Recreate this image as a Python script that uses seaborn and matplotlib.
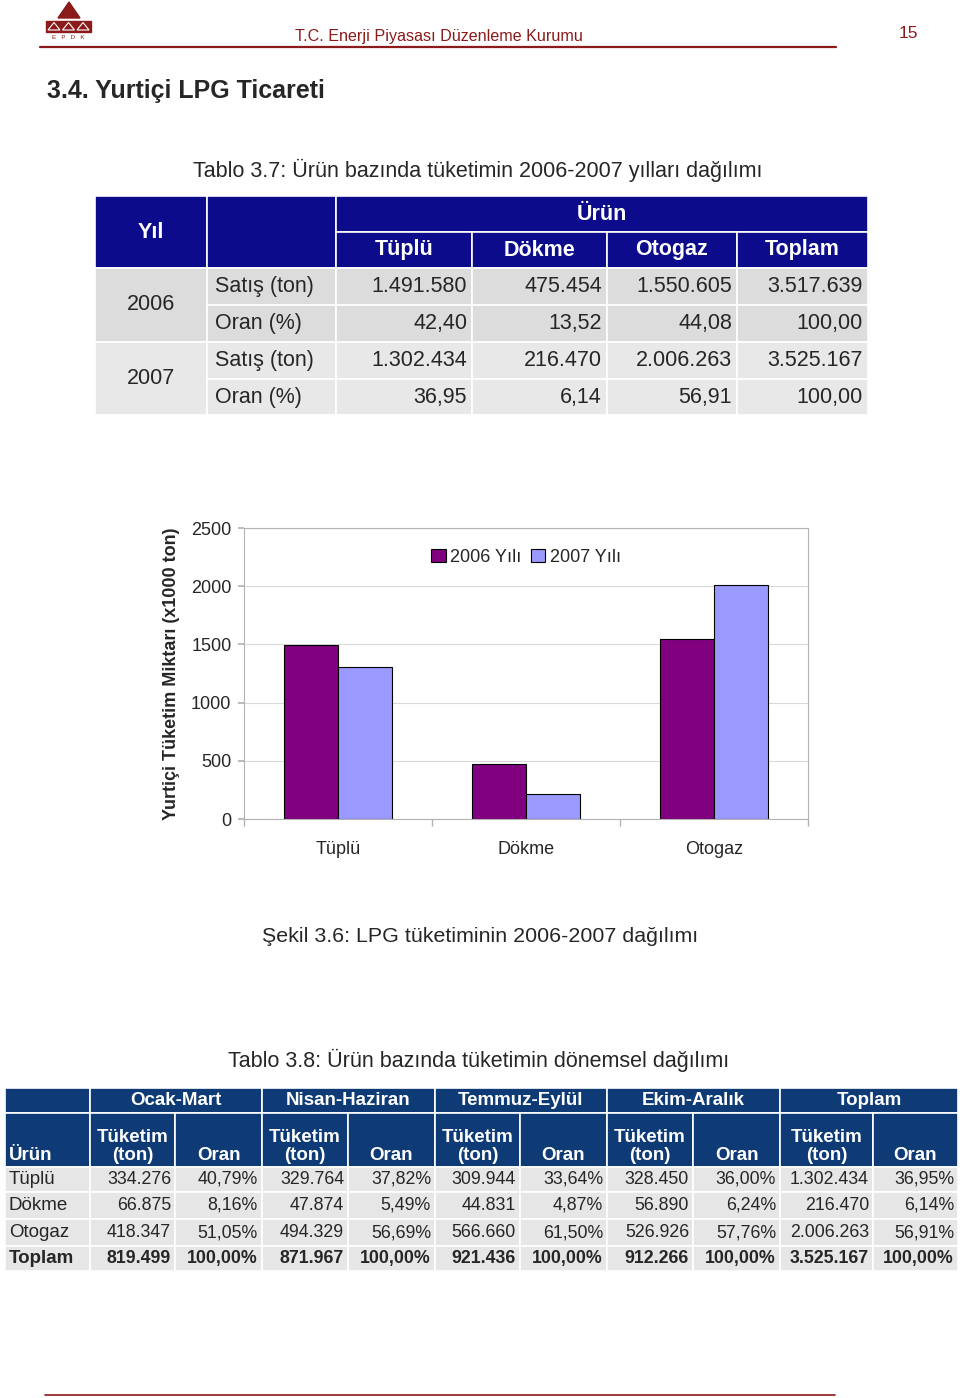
import numpy as np
import pandas as pd
import matplotlib
matplotlib.use("Agg")
import matplotlib.pyplot as plt
from matplotlib.patches import Rectangle, Polygon
import seaborn as sns

# ---- data -------------------------------------------------------------
products = ["Tüplü", "Dökme", "Otogaz", "Toplam"]
sales_2006 = [1491580, 475454, 1550605, 3517639]
share_2006 = [42.40, 13.52, 44.08, 100.00]
sales_2007 = [1302434, 216470, 2006263, 3525167]
share_2007 = [36.95, 6.14, 56.91, 100.00]

chart_categories = ["Tüplü", "Dökme", "Otogaz"]
chart_2006 = [1491.6, 475.5, 1550.6]
chart_2007 = [1302.4, 216.5, 2006.3]
years = ["2006 Yılı", "2007 Yılı"]

periods = ["Ocak-Mart", "Nisan-Haziran", "Temmuz-Eylül", "Ekim-Aralık", "Toplam"]
rows2 = ["Tüplü", "Dökme", "Otogaz", "Toplam"]
ton_q1 = [334276, 66875, 418347, 819499]
pct_q1 = [40.79, 8.16, 51.05, 100.00]
ton_q2 = [329764, 47874, 494329, 871967]
pct_q2 = [37.82, 5.49, 56.69, 100.00]
ton_q3 = [309944, 44831, 566660, 921436]
pct_q3 = [33.64, 4.87, 61.50, 100.00]
ton_q4 = [328450, 56890, 526926, 912266]
pct_q4 = [36.00, 6.24, 57.76, 100.00]
ton_tot = [1302434, 216470, 2006263, 3525167]
pct_tot = [36.95, 6.14, 56.91, 100.00]

# ---- styles -----------------------------------------------------------
RED = "#8B1A1A"
NAVY = "#0B0B8C"
BLUE2 = "#0E3B75"
FONT = ["Liberation Sans", "DejaVu Sans"]

sns.set_theme(style="white")
plt.rcParams["font.family"] = FONT


def tr_int(v):
    return f"{v:,}".replace(",", ".")


def tr_dec(v, suffix=""):
    return f"{v:.2f}".replace(".", ",") + suffix


fig = plt.figure(figsize=(9.6, 13.98), dpi=100)
page = fig.add_axes([0, 0, 1, 1])
page.set_xlim(0, 960)
page.set_ylim(1398, 0)
page.axis("off")

# ---- page header ------------------------------------------------------
page.add_patch(Polygon([[58, 18], [69, 2], [80, 18]], color=RED))
page.add_patch(Rectangle((46, 21), 45, 11, color=RED))
for cx in [54, 68.5, 83]:
    page.add_patch(Polygon([[cx - 6, 30], [cx, 22.5], [cx + 6, 30]],
                           facecolor=RED, edgecolor="white", lw=0.8))
page.text(68.5, 37.5, "E   P   D   K", fontsize=4.5, color=RED, ha="center", va="center")
page.plot([40, 836], [46.5, 46.5], color=RED, lw=1.6)
page.text(295, 36, "T.C. Enerji Piyasası Düzenleme Kurumu",
          fontsize=11.6, color=RED, va="center")
page.text(908, 33, "15", fontsize=12.5, color=RED, ha="center", va="center")
page.text(47, 91, "3.4. Yurtiçi LPG Ticareti", fontsize=18,
          fontweight="bold", va="center")
page.plot([45, 835], [1395, 1395], color=RED, lw=1.2)

# ---- table 3.7 --------------------------------------------------------
page.text(193, 170, "Tablo 3.7: Ürün bazında tüketimin 2006-2007 yılları dağılımı",
          fontsize=15.5, va="center")
c1 = [95, 207, 336, 472, 607, 737, 868]
r1 = [196, 232, 268, 305, 342, 379, 415]


def cell(x0, x1, y0, y1, color):
    page.add_patch(Rectangle((x0, y0), x1 - x0, y1 - y0, facecolor=color,
                             edgecolor="white", lw=1.2))


cell(c1[0], c1[1], r1[0], r1[2], NAVY)
cell(c1[1], c1[2], r1[0], r1[2], NAVY)
cell(c1[2], c1[6], r1[0], r1[1], NAVY)
page.text((c1[0] + c1[1]) / 2, (r1[0] + r1[2]) / 2, "Yıl", color="white",
          fontsize=15.5, fontweight="bold", ha="center", va="center")
page.text((c1[2] + c1[6]) / 2, (r1[0] + r1[1]) / 2, "Ürün", color="white",
          fontsize=15.5, fontweight="bold", ha="center", va="center")
for j, p in enumerate(products):
    cell(c1[j + 2], c1[j + 3], r1[1], r1[2], NAVY)
    page.text((c1[j + 2] + c1[j + 3]) / 2, (r1[1] + r1[2]) / 2, p, color="white",
              fontsize=15.5, fontweight="bold", ha="center", va="center")

blocks = [("2006", sales_2006, share_2006, "#DCDCDC"),
          ("2007", sales_2007, share_2007, "#E8E8E8")]
for b, (yr, sales, share, bg) in enumerate(blocks):
    ra = r1[2 + 2 * b]
    rb = r1[3 + 2 * b]
    rc = r1[4 + 2 * b]
    cell(c1[0], c1[1], ra, rc, bg)
    page.text((c1[0] + c1[1]) / 2, (ra + rc) / 2, yr, fontsize=15.5,
              ha="center", va="center")
    for (y0, y1, lab, vals) in [(ra, rb, "Satış (ton)", [tr_int(v) for v in sales]),
                                (rb, rc, "Oran (%)", [tr_dec(v) for v in share])]:
        cell(c1[1], c1[2], y0, y1, bg)
        page.text(c1[1] + 8, (y0 + y1) / 2, lab, fontsize=15.5, va="center")
        for j, v in enumerate(vals):
            cell(c1[j + 2], c1[j + 3], y0, y1, bg)
            page.text(c1[j + 3] - 5, (y0 + y1) / 2, v, fontsize=15.5,
                      ha="right", va="center")

# ---- chart ------------------------------------------------------------
df = pd.DataFrame({
    "urun": chart_categories * 2,
    "yil": [years[0]] * 3 + [years[1]] * 3,
    "ton": chart_2006 + chart_2007,
})
ax = fig.add_axes([244 / 960, (1398 - 819) / 1398, 564 / 960, 291 / 1398])
sns.barplot(data=df, x="urun", y="ton", hue="yil", palette=["#800080", "#9999FF"],
            width=0.57, saturation=1, edgecolor="black", linewidth=0.8, ax=ax)
ax.set_xlim(-0.5, 2.5)
ax.set_ylim(0, 2500)
ax.set_yticks(np.arange(0, 2501, 500))
ax.yaxis.grid(True, color="#D9D9D9", lw=0.8)
ax.set_axisbelow(True)
for s in ax.spines.values():
    s.set_color("#B3B3B3")
    s.set_linewidth(0.8)
ax.set_xticks([-0.5, 0.5, 1.5, 2.5], minor=True)
ax.tick_params(axis="x", which="major", length=0, pad=16, labelsize=13)
ax.tick_params(axis="x", which="minor", length=5, color="#B3B3B3", bottom=True)
ax.tick_params(axis="y", length=4, color="#B3B3B3", left=True, pad=5, labelsize=13)
ax.set_xlabel("")
ax.set_ylabel("Yurtiçi Tüketim Miktarı (x1000 ton)", fontsize=13, fontweight="bold")
ax.yaxis.set_label_coords(-0.113, 0.5)
leg = ax.legend(loc="center", bbox_to_anchor=(0.5, 0.9), ncol=2, frameon=False,
                fontsize=13, handlelength=0.8, handleheight=0.8, handletextpad=0.25,
                columnspacing=0.5)

page.text(262, 937, "Şekil 3.6: LPG tüketiminin 2006-2007 dağılımı", fontsize=15.4,
          va="center")

# ---- table 3.8 --------------------------------------------------------
page.text(228, 1060, "Tablo 3.8: Ürün bazında tüketimin dönemsel dağılımı",
          fontsize=15.5, va="center")
c2 = [5, 90, 175, 262, 348, 435, 520, 607, 693, 780, 873, 958]
r2 = [1088, 1113, 1167, 1192, 1219, 1246, 1271]
tons = [ton_q1, ton_q2, ton_q3, ton_q4, ton_tot]
pcts = [pct_q1, pct_q2, pct_q3, pct_q4, pct_tot]
FS2 = 12.8

cell(c2[0], c2[1], r2[0], r2[1], BLUE2)
cell(c2[0], c2[1], r2[1], r2[2], BLUE2)
page.text(c2[0] + 4, r2[2] - 3, "Ürün", fontsize=FS2 + 0.7, fontweight="bold",
          color="white", va="bottom")
for k, per in enumerate(periods):
    xa, xb, xc = c2[1 + 2 * k], c2[2 + 2 * k], c2[3 + 2 * k]
    cell(xa, xc, r2[0], r2[1], BLUE2)
    page.text((xa + xc) / 2, (r2[0] + r2[1]) / 2, per, fontsize=FS2 + 0.7,
              fontweight="bold", color="white", ha="center", va="center")
    cell(xa, xb, r2[1], r2[2], BLUE2)
    cell(xb, xc, r2[1], r2[2], BLUE2)
    page.text((xa + xb) / 2, r2[2] - 3, "Tüketim\n(ton)", fontsize=FS2 + 0.7,
              fontweight="bold", color="white", ha="center", va="bottom",
              linespacing=1.1)
    page.text((xb + xc) / 2, r2[2] - 3, "Oran", fontsize=FS2 + 0.7,
              fontweight="bold", color="white", ha="center", va="bottom")
    for i in range(len(rows2)):
        y0, y1 = r2[2 + i], r2[3 + i]
        wt = "bold" if i == len(rows2) - 1 else "normal"
        cell(xa, xb, y0, y1, "#E6E6E6")
        cell(xb, xc, y0, y1, "#E6E6E6")
        page.text(xb - 4, (y0 + y1) / 2, tr_int(tons[k][i]),
                  fontsize=FS2, fontweight=wt, ha="right", va="center")
        page.text(xc - 4, (y0 + y1) / 2, tr_dec(pcts[k][i], "%"),
                  fontsize=FS2, fontweight=wt, ha="right", va="center")
for i, name in enumerate(rows2):
    y0, y1 = r2[2 + i], r2[3 + i]
    wt = "bold" if i == len(rows2) - 1 else "normal"
    cell(c2[0], c2[1], y0, y1, "#E6E6E6")
    page.text(c2[0] + 4, (y0 + y1) / 2, name, fontsize=FS2 + 0.7,
              fontweight=wt, va="center")

fig.savefig("out.png", dpi=100)
